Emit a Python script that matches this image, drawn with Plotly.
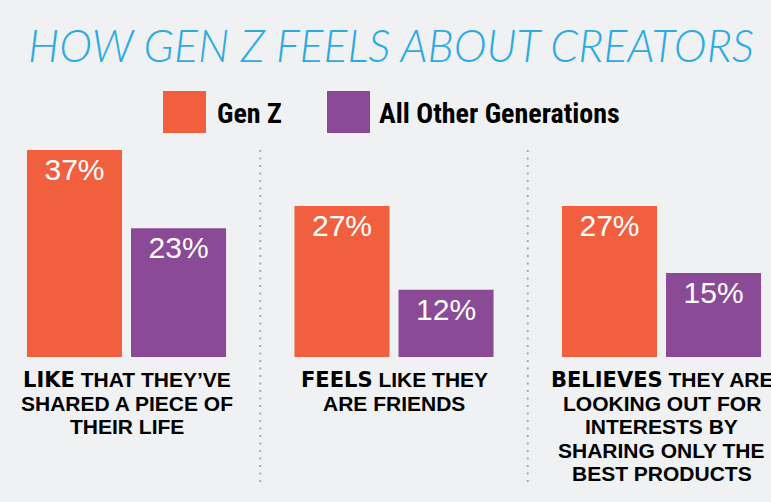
import plotly.graph_objects as go

# ---- data ----
cat_lead = ["LIKE", "FEELS", "BELIEVES"]
cat_lines = [
    ["THAT THEY’VE", "SHARED A PIECE OF", "THEIR LIFE"],
    ["LIKE THEY", "ARE FRIENDS"],
    ["THEY ARE", "LOOKING OUT FOR", "INTERESTS BY", "SHARING ONLY THE", "BEST PRODUCTS"],
]
series_names = ["Gen Z", "All Other Generations"]
gen_z = [37, 27, 27]
all_other = [23, 12, 15]
series_values = [gen_z, all_other]
series_colors = ["#F25F3F", "#8A4A96"]
title_text = "HOW GEN Z FEELS ABOUT CREATORS"

W, H = 771, 502
BG = "#F0F1F3"
M_T, M_B = 140, 145
PLOT_H = H - M_T - M_B
PX_PER_UNIT = 5.595
PX_PER_CAT = 267.5
X0_PX = 126.5


def py(px):
    """pixel y (from top) -> paper y"""
    return (H - M_B - px) / PLOT_H


def pxx(px):
    return px / W


fig = go.Figure()
for name, vals, col in zip(series_names, series_values, series_colors):
    fig.add_trace(go.Bar(
        x=cat_lead, y=vals, name=name, marker=dict(color=col, line=dict(width=0)),
        texttemplate="%{y}%", textposition="inside", insidetextanchor="end",
        textfont=dict(family="Liberation Sans, Arial, sans-serif", size=30, color="white"),
        constraintext="none", showlegend=False, hoverinfo="skip",
    ))

annotations = []
shapes = []

# title
annotations.append(dict(
    text=title_text, xref="paper", yref="paper", x=pxx(391), y=py(44.5),
    xanchor="center", yanchor="middle", showarrow=False,
    font=dict(family="Lato, Open Sans, sans-serif", size=44.5, color="#2BABE2",
              weight=300, style="italic"),
))

# legend (custom large swatches)
legend_sw = [(163, 206), (327, 370)]
legend_tx = [215, 377]
for (x0, x1), tx, name, col in zip(legend_sw, legend_tx, series_names, series_colors):
    shapes.append(dict(type="rect", xref="paper", yref="paper",
                       x0=pxx(x0), x1=pxx(x1), y0=py(133), y1=py(91),
                       fillcolor=col, line=dict(width=0)))
    annotations.append(dict(
        text=name, xref="paper", yref="paper", x=pxx(tx), y=py(113.5),
        xanchor="left", yanchor="middle", showarrow=False,
        font=dict(family="Liberation Sans Narrow, Roboto Condensed, Roboto, sans-serif",
                  size=28, color="#000000", weight="bold"),
    ))

# category labels below bars
LINE_H = 23.5
FIRST_MID = 379.7
for i, (lead, lines) in enumerate(zip(cat_lead, cat_lines)):
    for j, ln in enumerate(lines):
        if j == 0:
            txt = ("<span style='font-family:DejaVu Sans;font-weight:900'>" + lead +
                   "</span> " + ln)
        else:
            txt = ln
        annotations.append(dict(
            text=txt, xref="x", yref="paper", x=lead, y=py(FIRST_MID + j * LINE_H),
            xanchor="center", yanchor="middle", showarrow=False,
            font=dict(family="Liberation Sans, Arial, sans-serif", size=21,
                      color="#000000", weight="bold"),
        ))

# dotted separators between groups
for k in range(len(cat_lead) - 1):
    shapes.append(dict(type="line", xref="x", yref="paper",
                       x0=k + 0.5, x1=k + 0.5, y0=py(150), y1=py(483),
                       line=dict(color="#A9ABAF", width=2, dash="2px,5.5px")))

x_lo = -X0_PX / PX_PER_CAT
x_hi = (W - X0_PX) / PX_PER_CAT

fig.update_layout(
    width=W, height=H,
    margin=dict(l=0, r=0, t=M_T, b=M_B, pad=0),
    paper_bgcolor=BG, plot_bgcolor=BG,
    barmode="group", bargap=0.222, bargroupgap=0.0865,
    xaxis=dict(visible=False, range=[x_lo, x_hi], type="category"),
    yaxis=dict(visible=False, range=[0, PLOT_H / PX_PER_UNIT]),
    annotations=annotations, shapes=shapes,
    showlegend=False,
)

fig.write_html("out.html", config={"displayModeBar": False},
               post_script="document.body.style.margin='0';document.body.style.background='%s';" % BG)
